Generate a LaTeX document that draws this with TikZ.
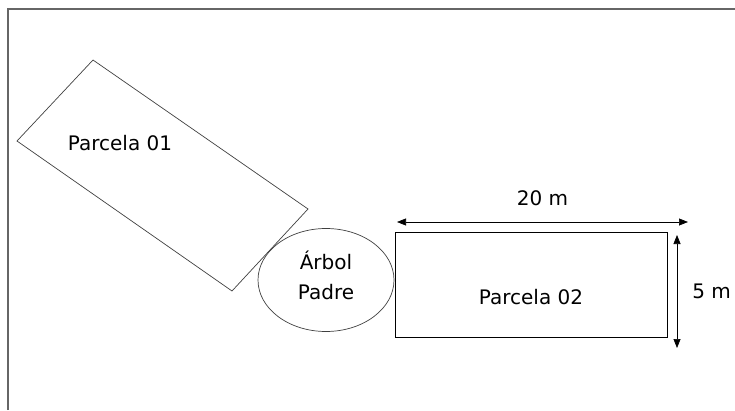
\documentclass[tikz,border=0pt]{standalone}
\usepackage{fontspec}
\setmainfont{DejaVu Sans}
\usetikzlibrary{arrows.meta}

\begin{document}
\begin{tikzpicture}
					[x=1pt, y=1pt, >={Triangle[length=9pt,width=7pt]}, line width=0.7pt,
					lbl/.style={inner sep=0pt, font=\fontsize{20}{30}\selectfont, align=center}]
					\useasboundingbox (0,0) rectangle (735,410);
					\draw[gray!80!black, line width=1.4pt] (8,0) -- (8,401) -- (735,401);
					% parcela 01
					\coordinate (t1) at (93,350);
					\coordinate (l1) at (17,269);
					\coordinate (b1) at (232,119);
					\coordinate (r1) at (308,201);
					\draw[black!75] (t1) -- (l1) -- (b1) -- (r1) -- cycle;
					\node[lbl] (P1) at (120,267) {Parcela 01};
					% arbol padre
					\draw[black!75] (326,130) ellipse [x radius=68, y radius=51.5];
					\node[lbl] (AP) at (326,135) {Árbol\\Padre};
					% parcela 02
					\draw (395,73) rectangle (667,178);
					\node[lbl] (P2) at (531,113) {Parcela 02};
					\coordinate (h1) at (397,188);
					\coordinate (h2) at (688,188);
					\coordinate (v1) at (677,175);
					\coordinate (v2) at (677,62);
					\path[<->] (h1) edge node[lbl, above=16pt] {20 m} (h2)
					(v1) edge node[lbl, right=15pt] {5 m} (v2);
				\end{tikzpicture}
\end{document}
